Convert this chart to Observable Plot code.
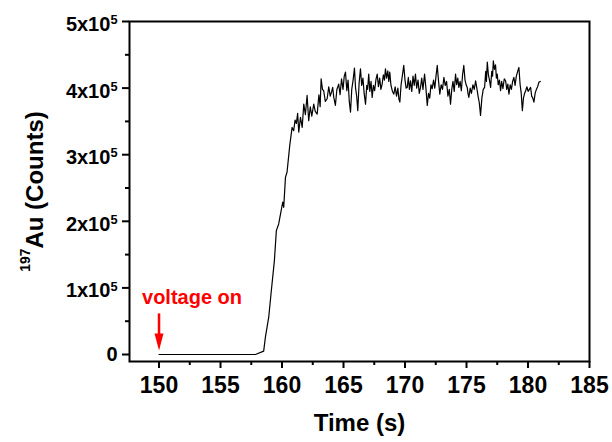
<!DOCTYPE html>
<html>
<head>
<meta charset="utf-8">
<script src="https://cdn.jsdelivr.net/npm/d3@7"></script>
<script src="https://cdn.jsdelivr.net/npm/@observablehq/plot@0.6"></script>
<style>
  html, body { margin: 0; padding: 0; background: #fff; }
  svg { display: block; }
</style>
</head>
<body>
<div id="chart"></div>
<script>
// ---- data ----
const timeS = [
  150.00, 157.84, 158.51, 158.65, 158.92, 159.11, 159.38, 159.54, 159.73, 159.93,
  160.06, 160.14, 160.28, 160.41, 160.63, 160.82, 160.95, 161.06, 161.17, 161.27,
  161.36, 161.50, 161.64, 161.77, 161.90, 162.04, 162.17, 162.30, 162.42, 162.58,
  162.70, 162.86, 163.00, 163.10, 163.18, 163.29, 163.39, 163.52, 163.67, 163.80,
  163.92, 164.04, 164.12, 164.21, 164.34, 164.46, 164.61, 164.72, 164.84, 164.96,
  165.06, 165.16, 165.27, 165.37, 165.47, 165.57, 165.67, 165.78, 165.89, 165.98,
  166.07, 166.16, 166.27, 166.38, 166.48, 166.58, 166.68, 166.79, 166.89, 166.96,
  167.05, 167.14, 167.24, 167.33, 167.43, 167.53, 167.64, 167.74, 167.84, 167.94,
  168.04, 168.14, 168.24, 168.33, 168.41, 168.50, 168.60, 168.68, 168.76, 168.86,
  168.98, 169.09, 169.20, 169.31, 169.42, 169.50, 169.58, 169.68, 169.78, 169.90,
  170.00, 170.09, 170.18, 170.27, 170.36, 170.45, 170.55, 170.65, 170.75, 170.85,
  170.95, 171.06, 171.16, 171.26, 171.36, 171.46, 171.59, 171.70, 171.81, 171.91,
  172.01, 172.11, 172.21, 172.32, 172.42, 172.52, 172.62, 172.72, 172.83, 172.94,
  173.05, 173.16, 173.27, 173.38, 173.49, 173.60, 173.70, 173.80, 173.90, 174.00,
  174.11, 174.20, 174.29, 174.38, 174.48, 174.58, 174.68, 174.78, 174.88, 174.97,
  175.06, 175.12, 175.19, 175.30, 175.40, 175.52, 175.63, 175.74, 175.84, 175.94,
  176.04, 176.14, 176.25, 176.36, 176.47, 176.56, 176.62, 176.69, 176.78, 176.87,
  176.96, 177.05, 177.12, 177.18, 177.27, 177.36, 177.43, 177.50, 177.58, 177.68,
  177.77, 177.86, 177.96, 178.07, 178.18, 178.27, 178.36, 178.45, 178.55, 178.65,
  178.75, 178.85, 178.95, 179.05, 179.16, 179.26, 179.36, 179.45, 179.54, 179.63,
  179.72, 179.81, 179.91, 180.01, 180.11, 180.21, 180.30, 180.39, 180.48, 180.58,
  180.68, 180.78, 180.89, 181.00
];
// counts in thousands
const countsK = [
    0,   0,   5,  26,  56,  92, 141, 186, 196, 216,
  229, 221, 266, 274, 314, 341, 336, 352, 347, 362,
  334, 356, 341, 376, 360, 389, 351, 372, 358, 376,
  365, 361, 390, 372, 414, 398, 396, 380, 384, 402,
  388, 395, 401, 386, 374, 398, 406, 390, 414, 398,
  418, 424, 396, 412, 380, 364, 398, 412, 430, 400,
  388, 366, 408, 429, 404, 415, 392, 376, 404, 398,
  421, 395, 410, 386, 404, 396, 413, 421, 402, 415,
  398, 406, 420, 412, 429, 415, 426, 410, 424, 404,
  395, 391, 402, 388, 400, 384, 379, 405, 418, 434,
  412, 400, 401, 416, 398, 411, 395, 418, 404, 421,
  400, 412, 392, 401, 415, 398, 421, 400, 374, 392,
  385, 405, 399, 412, 400, 418, 434, 412, 391, 405,
  398, 416, 404, 410, 388, 398, 376, 398, 410, 395,
  421, 405, 415, 401, 410, 396, 420, 434, 412, 405,
  401, 392, 386, 400, 392, 405, 398, 411, 400, 388,
  378, 359, 385, 398, 401, 425, 410, 439, 420, 412,
  401, 425, 418, 441, 428, 435, 415, 421, 405, 412,
  396, 410, 399, 414, 411, 398, 406, 391, 405, 398,
  410, 416, 404, 418, 425, 431, 405, 392, 366, 385,
  392, 396, 402, 395, 398, 401, 388, 385, 379, 392,
  398, 402, 409, 410
];
const xTicksMajor = [150, 155, 160, 165, 170, 175, 180, 185];
const xTicksMinor = [152.5, 157.5, 162.5, 167.5, 172.5, 177.5, 182.5];
const yTicksMajor = [0, 100000, 200000, 300000, 400000, 500000];
const yTicksMinor = [50000, 150000, 250000, 350000, 450000];
const yTickLabels = ["0", "1x10^5", "2x10^5", "3x10^5", "4x10^5", "5x10^5"];
const xTitle = "Time (s)";
const yTitle = "^197Au (Counts)";
const annotationTime = [150];
const annotationText = ["voltage on"];
const annotationTextY = [85700];
const arrowTop = [61000];
const arrowBase = [30000];
const arrowTip = [6000];

const n = Math.min(timeS.length, countsK.length);
const series = d3.range(n).map(i => ({t: timeS[i], c: countsK[i] * 1000}));
const annot = annotationTime.map((t, i) => ({t, label: annotationText[i], ly: annotationTextY[i], y1: arrowTop[i], y2: arrowBase[i], tip: arrowTip[i]}));

const downArrowHead = {
  draw(ctx) {
    ctx.moveTo(0, 0);
    ctx.lineTo(-4.5, -17);
    ctx.lineTo(4.5, -17);
    ctx.closePath();
  }
};

const font = "'Liberation Sans', Arial, Helvetica, sans-serif";

const chart = Plot.plot({
  width: 612,
  height: 442,
  marginLeft: 129,
  marginRight: 23,
  marginTop: 21,
  marginBottom: 81,
  style: {fontFamily: font, fontWeight: "bold", background: "#fff", color: "#000", overflow: "visible"},
  x: {domain: [147.6, 185]},
  y: {domain: [-10500, 500000]},
  marks: [
    Plot.line(series, {x: "t", y: "c", stroke: "#000", strokeWidth: 1.2}),
    Plot.axisX({ticks: xTicksMajor, tickSize: 7, tickPadding: 8, tickFormat: d => String(d), fontSize: 23, strokeWidth: 2, label: null}),
    Plot.axisX({ticks: xTicksMinor, tickSize: 4, tickFormat: () => "", strokeWidth: 2, label: null}),
    Plot.axisY({ticks: yTicksMajor, tickSize: 7, tickPadding: 5, tickFormat: (d) => yTickLabels[yTicksMajor.indexOf(d)], fontSize: 20, strokeWidth: 2, label: null}),
    Plot.axisY({ticks: yTicksMinor, tickSize: 4, tickFormat: () => "", strokeWidth: 2, label: null}),
    Plot.frame({stroke: "#000", strokeWidth: 2}),
    Plot.text([xTitle], {frameAnchor: "bottom", dy: 62, lineAnchor: "middle", fontSize: 24, text: d => d}),
    Plot.text([yTitle], {frameAnchor: "left", dx: -94, rotate: -90, lineAnchor: "middle", textAnchor: "middle", fontSize: 24, text: d => d}),
    Plot.text(annot, {x: "t", y: "ly", text: "label", textAnchor: "start", dx: -17, lineAnchor: "middle", fill: "#ff0000", fontSize: 20}),
    Plot.ruleX(annot, {x: "t", y1: "y1", y2: "y2", stroke: "#ff0000", strokeWidth: 2.5}),
    Plot.dot(annot, {x: "t", y: "tip", r: 5, symbol: downArrowHead, fill: "#ff0000", stroke: "none"})
  ]
});

document.getElementById("chart").append(chart);

// make sure the tick label sizes are as intended
d3.select(chart).selectAll('g[aria-label="x-axis tick label"]').attr("font-size", 23).selectAll("text").style("font-size", "23px");
d3.select(chart).selectAll('g[aria-label="y-axis tick label"]').attr("font-size", 20).selectAll("text").style("font-size", "20px");

// Superscript handling: "a^5b" -> a<sup>5</sup>b
const svgNS = "http://www.w3.org/2000/svg";
d3.select(chart).selectAll("text").each(function() {
  const el = this;
  const s = el.textContent;
  if (!s.includes("^")) return;
  const fs = parseFloat(getComputedStyle(el).fontSize) || 16;
  const isTitle = s === yTitle;
  const supScale = isTitle ? 0.58 : 0.64;
  const rise = isTitle ? 0.56 * fs : 0.34 * fs;
  const baseDrop = isTitle ? 0 : 3;
  const parts = s.split(/\^(\d+)/);
  el.textContent = "";
  let cur = 0;
  parts.forEach((p, i) => {
    if (p === "") return;
    const sup = i % 2 === 1;
    const target = sup ? baseDrop - rise : baseDrop;
    const ts = document.createElementNS(svgNS, "tspan");
    ts.textContent = p;
    ts.setAttribute("dy", (target - cur).toFixed(2));
    if (sup) ts.style.fontSize = (fs * supScale).toFixed(1) + "px";
    cur = target;
    el.appendChild(ts);
  });
});
</script>
</body>
</html>
